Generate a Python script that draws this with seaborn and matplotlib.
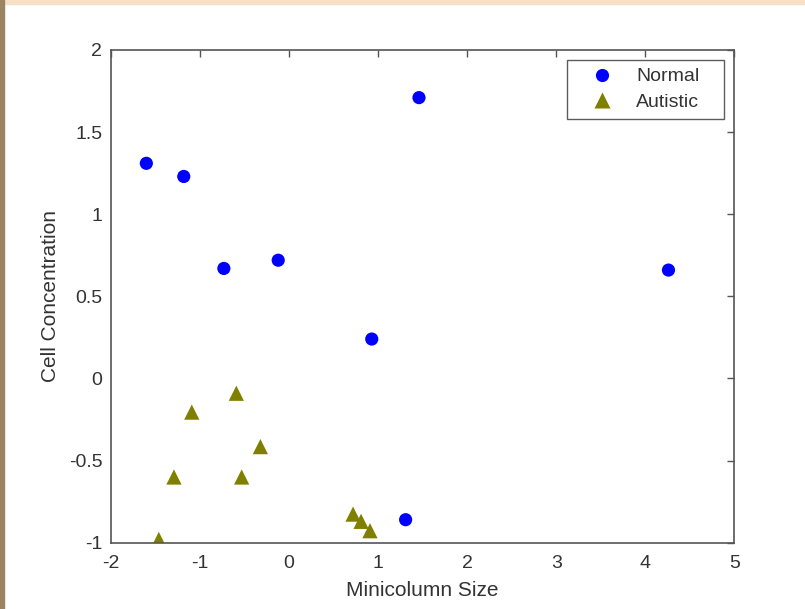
import matplotlib
matplotlib.use('Agg')
import matplotlib.pyplot as plt
import seaborn as sns
import pandas as pd
from matplotlib.patches import Rectangle

# Значения
normal_x = [-1.60, -1.18, -0.73, -0.12, 0.93, 1.46, 4.26, 1.31]
normal_y = [1.31, 1.23, 0.67, 0.72, 0.24, 1.71, 0.66, -0.86]
autistic_x = [-1.46, -1.09, -0.59, -0.32, -1.29, -0.53, 0.72, 0.81, 0.91]
autistic_y = [-0.98, -0.205, -0.09, -0.415, -0.60, -0.60, -0.826, -0.87, -0.927]
groups = ['Normal', 'Autistic']
x_ticks = [-2, -1, 0, 1, 2, 3, 4, 5]
y_ticks = [-1, -0.5, 0, 0.5, 1, 1.5, 2]
y_tick_labels = ['-1', '-0.5', '0', '0.5', '1', '1.5', '2']

df = pd.DataFrame({
    'x': normal_x + autistic_x,
    'y': normal_y + autistic_y,
    'group': [groups[0]] * len(normal_x) + [groups[1]] * len(autistic_x),
})

sns.set_style('white')
plt.rcParams['font.family'] = ['Liberation Sans', 'DejaVu Sans']

fig = plt.figure(figsize=(8.05, 6.09), dpi=100, facecolor='white')
# рамка слайда: полоса сверху и текстура слева
fig.patches.append(Rectangle((0, 1 - 4 / 609), 1, 4 / 609, transform=fig.transFigure,
                             color='#f7dfc6', zorder=0))
fig.patches.append(Rectangle((0, 0), 4 / 805, 1, transform=fig.transFigure,
                             color='#9c8460', zorder=0))

ax = fig.add_axes([110.7 / 805, 1 - 542.7 / 609, (734.4 - 110.7) / 805, (542.7 - 50) / 609])

sns.scatterplot(data=df, x='x', y='y', hue='group', style='group', size='group',
                palette={'Normal': '#0000ff', 'Autistic': '#808000'},
                markers={'Normal': 'o', 'Autistic': '^'},
                sizes={'Normal': 90, 'Autistic': 120},
                edgecolor='none', ax=ax)

ax.set_xlim(-2, 5)
ax.set_ylim(-1, 2)
ax.set_xticks(x_ticks)
ax.set_xticklabels([str(t) for t in x_ticks])
ax.set_yticks(y_ticks)
ax.set_yticklabels(y_tick_labels)
ax.set_xlabel('Minicolumn Size', fontsize=15, color='#333333', labelpad=6)
ax.set_ylabel('Cell Concentration', fontsize=15, color='#333333', labelpad=6.5)

for sp in ax.spines.values():
    sp.set_visible(True)
    sp.set_color('#555555')
    sp.set_linewidth(1.2)
ax.tick_params(direction='in', length=5, width=1, color='#555555',
               labelsize=14, labelcolor='#333333', top=True, right=True)
ax.tick_params(axis='x', pad=9)
ax.tick_params(axis='y', pad=6)

# рамка легенды растянута на ширину как в оригинале
leg = ax.legend(loc='upper left', bbox_to_anchor=(0.7316, 0.9797, 0.2517, 0),
                mode='expand', frameon=True, fontsize=14, borderaxespad=0,
                handlelength=2.8, handletextpad=0.37,
                borderpad=0.4, labelspacing=0.4)
leg.get_frame().set_edgecolor('#333333')
leg.get_frame().set_linewidth(1.0)
leg.get_frame().set_boxstyle('square', pad=0)
for t in leg.get_texts():
    t.set_color('#333333')

fig.savefig('out.png', dpi=100, facecolor=fig.get_facecolor())
